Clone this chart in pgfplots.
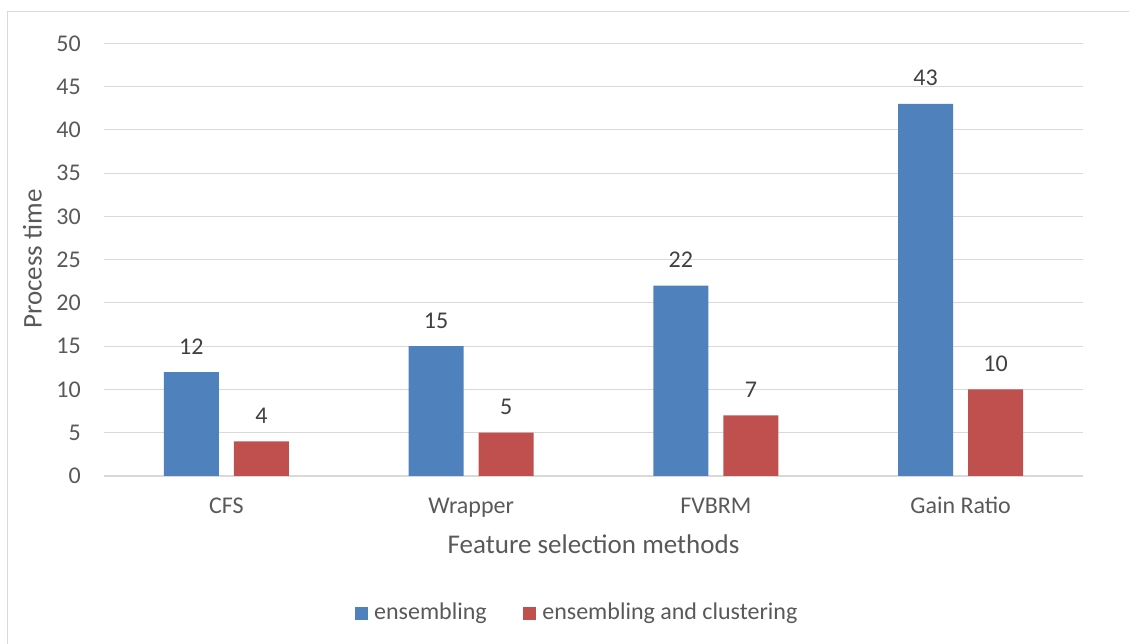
\documentclass[border=0pt]{standalone}
\usepackage{pgfplots}
\pgfplotsset{compat=1.18}
\usepackage{fontspec}
\setmainfont{Carlito}

\definecolor{serblue}{HTML}{4F81BD}
\definecolor{serred}{HTML}{C0504D}
\definecolor{gridgray}{HTML}{D9D9D9}
\definecolor{labelgray}{HTML}{595959}
\definecolor{valgray}{HTML}{404040}

\begin{document}
\begin{tikzpicture}[x=1pt,y=1pt]
\useasboundingbox (0,0) rectangle (1129,644);
% chart frame
\draw[gridgray, line width=1.2pt] (7.5,-5) -- (7.5,632.3) -- (1135,632.3);

\begin{axis}[
  at={(104pt,168pt)}, anchor=south west,
  scale only axis, width=979pt, height=432.7pt,
  ybar, bar width=55pt,
  xmin=-0.5, xmax=3.5, ymin=0, ymax=50,
  xtick={0,1,2,3},
  xticklabels={CFS, Wrapper, FVBRM, Gain Ratio},
  ytick={0,5,...,50},
  /pgf/number format/assume math mode=true,
  axis x line*=bottom, axis y line*=left,
  y axis line style={draw=none},
  x axis line style={gridgray, line width=1.6pt},
  major tick length=0pt,
  ymajorgrids, grid style={gridgray, line width=1pt},
  tick label style={font=\fontsize{24}{28}\selectfont, text=labelgray, inner sep=0pt},
  xticklabel style={anchor=base, yshift=-38pt},
  yticklabel style={anchor=east, xshift=-23pt},
  nodes near coords,
  every node near coord/.append style={font=\fontsize{24}{28}\selectfont, text=valgray, anchor=base, yshift=18pt, inner sep=0pt},
  legend columns=2,
  legend style={at={(0.4824,-0.3143)}, anchor=center, draw=none, fill=none,
    inner sep=0pt, font=\fontsize{24}{28}\selectfont, text=labelgray,
    nodes={inner sep=0pt},
    /tikz/every odd column/.append style={column sep=6pt},
    /tikz/every even column/.append style={column sep=36.6pt}},
  legend image code/.code={\fill[#1] (0pt,-8pt) rectangle (13pt,5pt);},
]
\addplot[fill=serblue, draw=none, bar shift=-35pt] coordinates {(0,12) (1,15) (2,22) (3,43)};
\addplot[fill=serred, draw=none, bar shift=35pt] coordinates {(0,4) (1,5) (2,7) (3,10)};
\legend{ensembling, ensembling and clustering}
\end{axis}

% axis titles
\node[rotate=90, anchor=base, inner sep=0pt, text=labelgray, font=\fontsize{27}{32}\selectfont] at (41.7,385) {Process time};
\node[anchor=base, inner sep=0pt, text=labelgray, font=\fontsize{27}{32}\selectfont] at (593.5,90) {Feature selection methods};
\end{tikzpicture}
\end{document}
